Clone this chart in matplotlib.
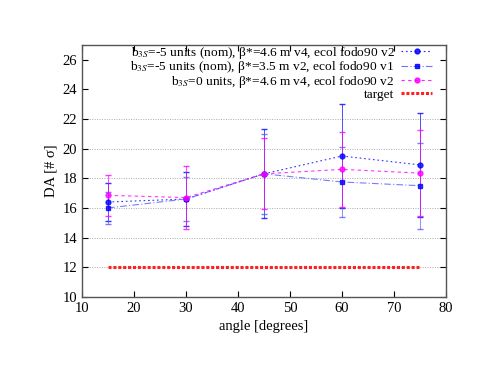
import matplotlib
matplotlib.use("Agg")
import matplotlib.pyplot as plt
from matplotlib.lines import Line2D

# angles (degrees)
angles = [15, 30, 45, 60, 75]

# DA values [# sigma] and error bars
da_nom_v4 = [16.4, 16.6, 18.3, 19.5, 18.9]
err_nom_v4 = [1.3, 1.8, 3.0, 3.5, 3.5]
da_nom_v2 = [16.0, 16.6, 18.3, 17.75, 17.5]
err_nom_v2 = [1.1, 1.5, 2.7, 2.35, 2.9]
da_zero_v4 = [16.85, 16.7, 18.3, 18.6, 18.35]
err_zero_v4 = [1.4, 2.1, 2.4, 2.55, 2.9]

target_x = [15, 75]
target_y = [12, 12]

labels = [
    r"b$_{3S}$=-5 units (nom), β*=4.6 m v4, ecol fodo90 v2",
    r"b$_{3S}$=-5 units (nom), β*=3.5 m v2, ecol fodo90 v1",
    r"b$_{3S}$=0 units, β*=4.6 m v4, ecol fodo90 v2",
    "target",
]

plt.rcParams['font.family'] = ['Liberation Serif', 'DejaVu Serif']
plt.rcParams['mathtext.fontset'] = 'stix'

fig = plt.figure(figsize=(4.8, 3.71), dpi=100)
ax = fig.add_axes([0.171, 0.1995, 0.758, 0.68])

styles = [
    dict(color='#0000ff', ls=(0, (1.5, 2.5)), marker='o', mfc='#0000ff', mec='#0000ff'),
    dict(color='#5a5aff', ls=(0, (6, 2, 1, 2)), marker='s', mfc='#0000ff', mec='#0000ff'),
    dict(color='#ff00ff', ls=(0, (3, 3)), marker='o', mfc='#ff00ff', mec='#ff00ff'),
]
series = [(da_nom_v4, err_nom_v4), (da_nom_v2, err_nom_v2), (da_zero_v4, err_zero_v4)]

handles = []
for (vals, errs), st, lab in zip(series, styles, labels):
    ax.errorbar(angles, vals, yerr=errs, lw=0.8, ms=3.5, capsize=2,
                elinewidth=0.6, alpha=0.8, **st)
    handles.append(Line2D([], [], lw=0.8, ms=3.5, alpha=0.85, label=lab, **st))

tl, = ax.plot(target_x, target_y, color='#ff2020', ls=(0, (1, 0.6)), lw=2.2,
              label=labels[3])
handles.append(tl)

ax.set_xlim(10, 80)
ax.set_ylim(10, 27)
ax.set_xticks(range(10, 81, 10))
ax.set_yticks(range(10, 27, 2))
ax.tick_params(direction='in', top=True, right=True, labelsize=10.5, length=4,
               width=0.8)
ax.yaxis.grid(True, color='#aaaaaa', ls=(0, (1, 1.5)), lw=0.7)
for gl, t in zip(ax.yaxis.get_gridlines(), ax.get_yticks()):
    if t > 22:
        gl.set_visible(False)

for s in ax.spines.values():
    s.set_color('#555555')
    s.set_linewidth(1.0)

ax.set_xlabel("angle [degrees]", fontsize=10.5)
ax.set_ylabel("DA [# σ]", fontsize=10.5)

leg = ax.legend(handles=handles, loc='upper right', bbox_to_anchor=(0.965, 1.005),
                frameon=False, markerfirst=False, fontsize=9.6, handlelength=2.3,
                labelspacing=-0.1, borderaxespad=0.0, borderpad=0.1,
                handletextpad=0.5)
for t in leg.get_texts():
    t.set_ha('right')
leg._legend_box.align = "right"

fig.savefig("out.png", dpi=100)
